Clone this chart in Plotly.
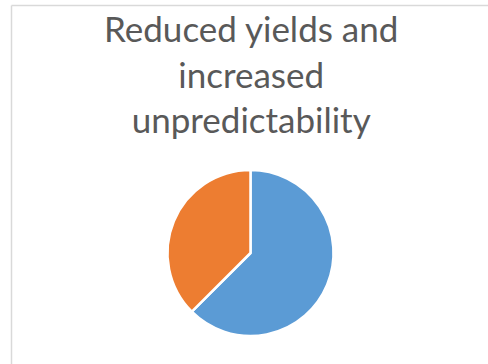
import plotly.graph_objects as go

labels = ["Reduced yields", "Increased unpredictability"]
values = [62.5, 37.5]
colors = ["#5B9BD5", "#ED7D31"]
title_lines = ["Reduced yields and", "increased", "unpredictability"]

W, H = 488, 364

fig = go.Figure()
fig.add_trace(go.Pie(
    labels=labels,
    values=values,
    sort=False,
    direction="clockwise",
    rotation=0,
    textinfo="none",
    hoverinfo="label+percent",
    marker=dict(colors=colors, line=dict(color="white", width=2.5)),
    domain=dict(x=[167.5 / W, 333.5 / W], y=[28 / H, 194 / H]),
    showlegend=False,
))

# chart frame: only left and top edges are visible in the crop
fig.add_shape(type="line", xref="paper", yref="paper",
              x0=11.5 / W, x1=11.5 / W, y0=0, y1=1 - 5.5 / H,
              line=dict(color="#d9d9d9", width=1.5))
fig.add_shape(type="line", xref="paper", yref="paper",
              x0=11.5 / W, x1=1, y0=1 - 5.5 / H, y1=1 - 5.5 / H,
              line=dict(color="#d9d9d9", width=1.5))

fig.add_annotation(
    text="<br>".join(title_lines), xref="paper", yref="paper",
    x=251 / W, xanchor="center", y=1 - 5 / H, yanchor="top",
    showarrow=False, align="center",
    font=dict(family="Lato", size=35, color="#595959"),
)

fig.update_layout(
    width=W, height=H,
    margin=dict(l=0, r=0, t=0, b=0),
    paper_bgcolor="white",
    plot_bgcolor="white",
)

fig.write_html("out.html", config={"displayModeBar": False},
               post_script="document.body.style.margin='0';")
